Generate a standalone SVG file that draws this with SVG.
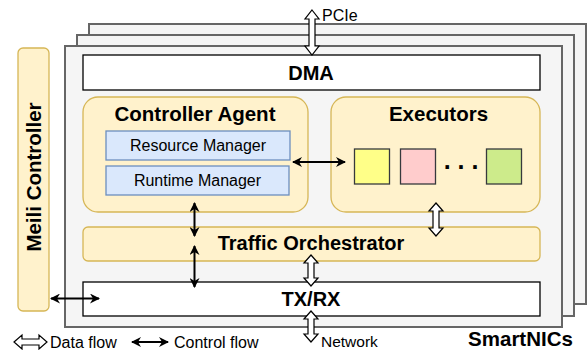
<svg xmlns="http://www.w3.org/2000/svg" width="587" height="350" viewBox="0 0 587 350">
<defs>
<style>
.nic{fill:#f5f5f5;stroke:#666666;stroke-width:2}
.white{fill:#ffffff;stroke:#000000;stroke-width:1.3}
.yel{fill:#fff2cc;stroke:#d6b656;stroke-width:1.3}
.blue{fill:#dae8fc;stroke:#6c8ebf;stroke-width:1.3}
.b{font-family:"Liberation Sans",Arial,sans-serif;font-weight:bold;fill:#000;text-anchor:middle;dominant-baseline:central}
.r{font-family:"Liberation Sans",Arial,sans-serif;fill:#000;dominant-baseline:central}
.ctl{stroke:#000;stroke-width:2;fill:none;marker-start:url(#ah);marker-end:url(#ah)}
.data{fill:#ffffff;stroke:#000000;stroke-width:1.2;stroke-linejoin:miter}
</style>
<marker id="ah" viewBox="0 0 10 10" refX="9" refY="5" markerWidth="5" markerHeight="5" orient="auto-start-reverse" markerUnits="strokeWidth">
<path d="M0,0 L10,5 L0,10 L3,5 Z" fill="#000"/>
</marker>
</defs>

<g id="smartnic-stack">
<rect class="nic" x="89" y="24" width="497" height="280"/>
<rect class="nic" x="77" y="35" width="497" height="281"/>
<rect class="nic" x="65" y="46" width="497" height="281"/>
</g>

<g id="meili-controller">
<rect class="yel" x="18" y="48" width="31" height="263" rx="5"/>
<text class="b" x="33.5" y="177" font-size="20.5" transform="rotate(-90 33.5 177)">Meili Controller</text>
</g>

<g id="dma">
<rect class="white" x="83" y="55" width="457" height="35"/>
<text class="b" x="311" y="72.5" font-size="20">DMA</text>
</g>

<g id="controller-agent">
<rect class="yel" x="83" y="97" width="225" height="115" rx="15"/>
<text class="b" x="195" y="113" font-size="20.5">Controller Agent</text>
</g>

<g id="resource-manager">
<rect class="blue" x="106" y="131" width="184" height="29"/>
<text class="r" x="198" y="145.5" font-size="16" text-anchor="middle">Resource Manager</text>
</g>

<g id="runtime-manager">
<rect class="blue" x="106" y="166" width="183" height="29"/>
<text class="r" x="197.5" y="180.5" font-size="16" text-anchor="middle">Runtime Manager</text>
</g>

<g id="executors">
<rect class="yel" x="331" y="97" width="209" height="115" rx="15"/>
<text class="b" x="438.5" y="113" font-size="20.5">Executors</text>
</g>

<g id="executor-1">
<rect x="354.5" y="149" width="35" height="35" fill="#ffff88" stroke="#36393d" stroke-width="1.3"/>
</g>
<g id="executor-2">
<rect x="400.5" y="149" width="35" height="35" fill="#ffcccc" stroke="#36393d" stroke-width="1.3"/>
</g>
<g id="executor-dots">
<text class="b" x="461" y="160" font-size="25">. . .</text>
</g>
<g id="executor-n">
<rect x="486.5" y="149" width="35" height="35" fill="#cdeb8b" stroke="#36393d" stroke-width="1.3"/>
</g>

<g id="traffic-orchestrator">
<rect class="yel" x="83" y="227" width="457" height="34" rx="5"/>
<text class="b" x="311" y="242.5" font-size="20">Traffic Orchestrator</text>
</g>

<g id="txrx">
<rect class="white" x="83" y="282" width="457" height="34"/>
<text class="b" x="311" y="298.5" font-size="20">TX/RX</text>
</g>

<g id="connectors">
<line class="ctl" x1="293" y1="162" x2="345" y2="162"/>
<line class="ctl" x1="194.5" y1="203" x2="194.5" y2="236"/>
<line class="ctl" x1="194.5" y1="246" x2="194.5" y2="287"/>
<line class="ctl" x1="51" y1="298.5" x2="99" y2="298.5"/>
<polygon class="data" points="312,10 319,19 315,19 315,46 319,46 312,55 305,46 309,46 309,19 305,19"/>
<polygon class="data" points="436,203 443,211 439,211 439,228 443,228 436,236 429,228 433,228 433,211 429,211"/>
<polygon class="data" points="311,255 318,263 314,263 314,278 318,278 311,286 304,278 308,278 308,263 304,263"/>
<polygon class="data" points="311,311 318,319 314,319 314,334 318,334 311,342 304,334 308,334 308,319 304,319"/>
</g>

<g id="labels">
<text class="r" x="322" y="15" font-size="16">PCIe</text>
<text class="r" x="321" y="341.5" font-size="15.5">Network</text>
<text class="b" x="520.5" y="338.5" font-size="20.5">SmartNICs</text>
</g>

<g id="legend">
<polygon class="data" points="14,342 22,335 22,339 39,339 39,335 47,342 39,349 39,345 22,345 22,349"/>
<text class="r" x="50" y="342" font-size="16">Data flow</text>
<line class="ctl" x1="132" y1="342" x2="168" y2="342"/>
<text class="r" x="174" y="342" font-size="16">Control flow</text>
</g>
</svg>
